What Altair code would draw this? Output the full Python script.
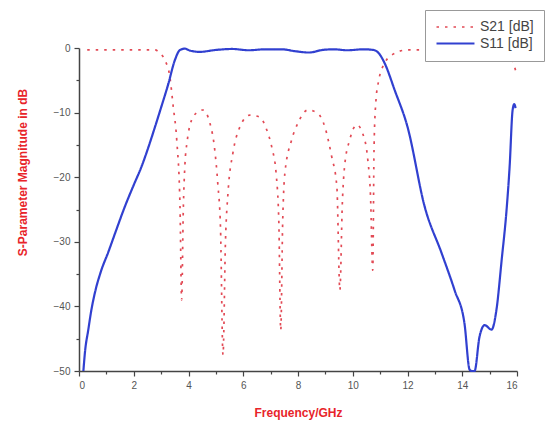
import altair as alt
import pandas as pd

# S21 transmission (dB) vs frequency (GHz)
s21_freq = [0.3, 0.5, 1, 1.5, 2, 2.5, 2.77, 2.96, 3.14, 3.32, 3.44, 3.57, 3.69, 3.75, 3.81, 3.87,
            3.95, 4.05, 4.3, 4.53, 4.78, 4.96, 5.07, 5.17, 5.26, 5.35, 5.45, 5.62, 5.88, 6.24,
            6.6, 6.86, 7.05, 7.2, 7.3, 7.37, 7.44, 7.52, 7.77, 8.0, 8.36, 8.72, 8.98, 9.23,
            9.42, 9.53, 9.62, 9.7, 9.89, 10.15, 10.36, 10.55, 10.65, 10.73, 10.78, 10.85,
            10.95, 11.17, 11.42, 12.0, 12.5, 14.0, 15.5, 15.75, 15.85, 15.95]
s21_db = [-0.3, -0.3, -0.3, -0.3, -0.3, -0.3, -0.3, -0.8, -1.9, -4.5, -9, -14.2, -24.6, -39, -25, -18,
          -14.5, -12, -10, -9.6, -11.6, -15.8, -21, -28, -47.5, -30, -22, -16.3, -12.2, -10.4,
          -10.7, -12.7, -15.5, -19.4, -27, -43.7, -27, -19.4, -14.2, -11.6, -9.6, -10.1, -12.2, -16.8,
          -21.5, -37.5, -24, -18.4, -14.2, -11.9, -13.2, -17.3, -23, -34.4, -15, -8,
          -5, -2.3, -1.1, -0.3, -0.3, -0.3, -0.3, -0.6, -2, -3.5]

# S11 reflection (dB) vs frequency (GHz)
s11_freq = [0.16, 0.22, 0.34, 0.45, 0.58, 0.8, 1.07, 1.35, 1.68, 2.0, 2.29, 2.5, 2.77, 3.0,
            3.26, 3.5, 3.69, 3.87,
            4.05, 4.4, 5.0, 5.6, 6.2, 6.8, 7.4, 7.9, 8.4, 8.9, 9.3, 9.8, 10.4, 10.75,
            10.95, 11.17, 11.53, 12.0, 12.63, 13.25, 13.72, 14.08, 14.27, 14.35, 14.45,
            14.63, 14.82, 15.07, 15.25, 15.44, 15.62, 15.73, 15.84, 15.9, 15.95]
s11_db = [-50, -47, -43.6, -40.6, -37.9, -34.6, -31.6, -28.3, -24.5, -21.2, -18.3, -15.8, -12.3, -9.2,
          -5.6, -1.9, -0.3, -0.1,
          -0.4, -0.6, -0.3, -0.15, -0.35, -0.2, -0.2, -0.5, -0.7, -0.3, -0.2, -0.35, -0.2, -0.3,
          -0.8, -2.4, -6.5, -12.2, -24.6, -31.8, -37.5, -42.6, -49.8, -50, -50,
          -44.7, -42.9, -43.6, -40.5, -32.8, -25, -18.4, -9.6, -8.7, -9.3]

series_names = ["S21 [dB]", "S11 [dB]"]
series_colors = ["#e24a55", "#3140d0"]

df = pd.concat([
    pd.DataFrame({"f": s21_freq, "db": s21_db, "series": series_names[0], "order": range(len(s21_freq))}),
    pd.DataFrame({"f": s11_freq, "db": s11_db, "series": series_names[1], "order": range(len(s11_freq))}),
])

font = "Liberation Sans"
minor_x = {"condition": {"test": "datum.value % 2 != 0", "value": 3}, "value": 5}
minor_y = {"condition": {"test": "datum.value % 10 != 0", "value": 3}, "value": 5}

# one shared legend box (color and dash merge into it); a long horizontal line symbol
legend = alt.Legend(
    title=None, orient="none", legendX=346, legendY=-38,
    symbolType="M-1,0H5.33", symbolSize=144, symbolStrokeWidth=2,
    labelFontSize=14, labelColor="#444", labelFont=font, labelOffset=30,
    strokeColor="#999", fillColor="white", padding=10, rowPadding=2,
)

chart = alt.Chart(df).mark_line(interpolate="monotone", clip=False).encode(
    x=alt.X("f:Q", scale=alt.Scale(domain=[0, 16], nice=False),
            axis=alt.Axis(title="Frequency/GHz", values=list(range(0, 17)),
                          labelExpr="datum.value % 2 == 0 ? datum.label : ''",
                          tickSize=minor_x, grid=False, titlePadding=17)),
    y=alt.Y("db:Q", scale=alt.Scale(domain=[-50, 0], nice=False),
            axis=alt.Axis(title="S-Parameter Magnitude in dB", values=list(range(-50, 1, 5)),
                          labelExpr="datum.value % 10 == 0 ? datum.label : ''",
                          tickSize=minor_y, grid=False,
                          titleX=-57, titleY=124, titleBaseline="middle", titleAngle=270)),
    color=alt.Color("series:N", scale=alt.Scale(domain=series_names, range=series_colors),
                    legend=legend),
    strokeDash=alt.StrokeDash("series:N",
                              scale=alt.Scale(domain=series_names, range=[[2.5, 6], [1, 0]]),
                              legend=legend),
    strokeWidth=alt.StrokeWidth("series:N", scale=alt.Scale(domain=series_names, range=[1.7, 2.2]),
                                legend=None),
    order="order:Q",
).properties(
    width=438, height=323,
    autosize=alt.AutoSizeParams(type="none"),
    padding={"left": 79, "top": 48, "right": 38, "bottom": 50},
).configure_view(stroke=None).configure_axis(
    domainColor="#444", domainWidth=1.5, tickColor="#444", tickWidth=1.2,
    labelColor="#555", labelFontSize=10, labelFont=font, labelPadding=4,
    titleColor="#e8242a", titleFont=font, titleFontSize=12, titleFontWeight="bold",
)

chart.save("out.html", embed_options={"renderer": "svg", "actions": False})
